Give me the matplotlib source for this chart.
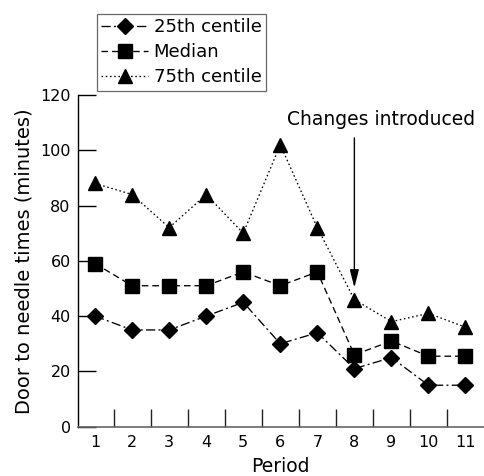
import matplotlib
matplotlib.use("Agg")
import matplotlib.pyplot as plt
from matplotlib.ticker import FixedLocator

plt.rcParams['font.family'] = ['DejaVu Sans']

periods = [1, 2, 3, 4, 5, 6, 7, 8, 9, 10, 11]
p25 = [40, 35, 35, 40, 45, 30, 34, 21, 25, 15, 15]
median = [59, 51, 51, 51, 56, 51, 56, 26, 31, 25.5, 25.5]
p75 = [88, 84, 72, 84, 70, 102, 72, 46, 38, 41, 36]
yticks = [0, 20, 40, 60, 80, 100, 120]
xlabel = "Period"
ylabel = "Door to needle times (minutes)"
annot_text = "Changes introduced"
annot_period = 8

fig = plt.figure(figsize=(4.84, 4.76), dpi=100)
ax = fig.add_axes([0.1605, 0.1036, 0.8395, 0.6968])

lw = 0.95
l1, = ax.plot(periods, p25, color='black', linestyle=(0, (7, 2.5, 1.5, 2.5)), lw=lw,
              marker='D', markersize=8, label='25th centile')
l2, = ax.plot(periods, median, color='black', linestyle=(0, (5, 3)), lw=lw,
              marker='s', markersize=9.5, label='Median')
l3, = ax.plot(periods, p75, color='black', linestyle=(0, (1.2, 2)), lw=lw,
              marker='^', markersize=10.5, label='75th centile')

ax.set_xlim(0.53, 11.5)
ax.set_ylim(0, 120)
ax.set_yticks(yticks)
ax.set_xticks(periods)
ax.xaxis.set_minor_locator(FixedLocator([p + 0.5 for p in periods[:-1]]))
ax.tick_params(axis='x', which='major', length=0, labelsize=11.5, pad=6)
ax.tick_params(axis='x', which='minor', direction='in', length=13, width=1, color='#222222')
ax.tick_params(axis='y', which='major', direction='in', length=13, width=1, labelsize=11.5, pad=5)

for s in ['top', 'right']:
    ax.spines[s].set_visible(False)
ax.spines['bottom'].set_color('#666666')
ax.spines['bottom'].set_linewidth(1.2)
ax.spines['left'].set_linewidth(1.0)

ax.set_xlabel(xlabel, fontsize=13.5, labelpad=5)
ax.set_ylabel(ylabel, fontsize=14, labelpad=4.5)

ax.text(8.73, 111, annot_text, ha='center', va='center', fontsize=13.5)
ax.annotate('', xy=(annot_period, 50.3), xytext=(annot_period, 104.5),
            arrowprops=dict(arrowstyle='-|>,head_length=0.83,head_width=0.21',
                            color='black', lw=1.0, shrinkA=0, shrinkB=0,
                            mutation_scale=13))

leg = fig.legend(handles=[l1, l2, l3], loc='upper left', bbox_to_anchor=(0.2, 0.971),
                 fontsize=13, frameon=True, fancybox=False, edgecolor='#444444',
                 handlelength=2.6, handletextpad=0.3, borderpad=0.25,
                 labelspacing=0.38, borderaxespad=0)
leg.get_frame().set_linewidth(0.9)

fig.savefig('out.png', dpi=100)
